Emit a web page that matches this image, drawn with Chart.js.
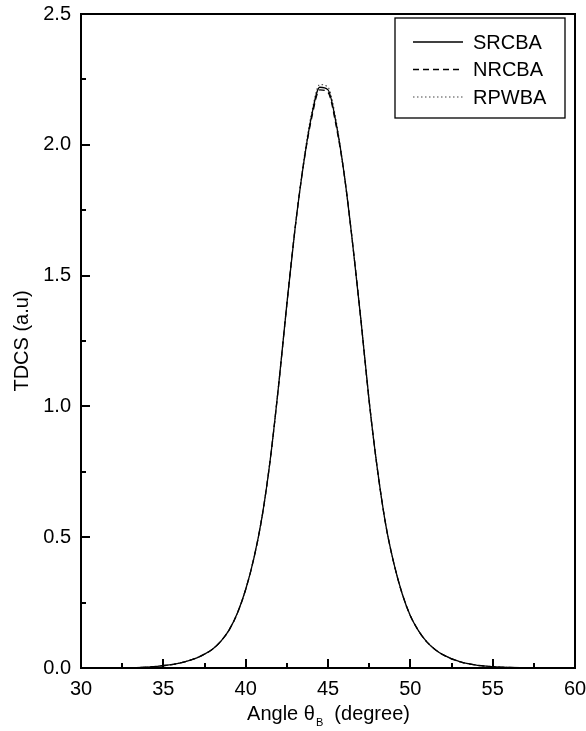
<!DOCTYPE html>
<html><head><meta charset="utf-8">
<script src="https://cdn.jsdelivr.net/npm/chart.js@4.4.0/dist/chart.umd.min.js"></script>
<style>html,body{margin:0;padding:0;background:#fff}</style>
</head><body>
<canvas id="c" width="586" height="731"></canvas>
<script>
const angles = [33,34,35,36,37,37.5,38,38.5,39,39.5,40,40.5,41,41.5,42,42.5,43,43.5,44,44.5,45,45.5,46,46.5,47,47.5,48,48.5,49,49.5,50,50.5,51,51.5,52,53,54,55,56,57];
const srcba = [0.001,0.003,0.009,0.019,0.038,0.053,0.073,0.103,0.146,0.21,0.30,0.42,0.58,0.80,1.08,1.39,1.68,1.92,2.11,2.22,2.21,2.08,1.88,1.62,1.33,1.02,0.76,0.55,0.40,0.285,0.20,0.142,0.10,0.071,0.05,0.024,0.011,0.005,0.002,0.001];
const nrcba = [0.001,0.003,0.009,0.019,0.038,0.053,0.073,0.103,0.146,0.21,0.30,0.42,0.58,0.80,1.08,1.39,1.68,1.92,2.10,2.21,2.20,2.07,1.88,1.62,1.33,1.02,0.76,0.55,0.40,0.285,0.20,0.142,0.10,0.071,0.05,0.024,0.011,0.005,0.002,0.001];
const rpwba = [0.001,0.003,0.009,0.019,0.038,0.053,0.073,0.103,0.146,0.21,0.30,0.42,0.58,0.80,1.08,1.39,1.68,1.93,2.12,2.23,2.22,2.09,1.88,1.62,1.33,1.02,0.76,0.55,0.40,0.285,0.20,0.142,0.10,0.071,0.05,0.024,0.011,0.005,0.002,0.001];
const seriesNames = ['SRCBA','NRCBA','RPWBA'];
const xTicks = [30,35,40,45,50,55,60];
const yTicks = [0,0.5,1.0,1.5,2.0,2.5];
const xMinorStep = 2.5;
const yMinorStep = 0.25;

const FONT = '"Liberation Sans", Arial, Helvetica, sans-serif';
const FS = 20;
const pts = arr => angles.map((a,i)=>({x:a,y:arr[i]}));

const decor = {
  id:'decor',
  afterDatasetsDraw(chart){
    const {ctx, chartArea:a, scales:{x,y}} = chart;
    ctx.save();
    ctx.strokeStyle='#000';
    ctx.lineWidth=2;
    ctx.strokeRect(a.left, a.top, a.right-a.left, a.bottom-a.top);
    ctx.beginPath();
    for (let v=x.min; v<=x.max+1e-9; v+=xMinorStep){
      const px = Math.round(x.getPixelForValue(v));
      const len = xTicks.includes(v) ? 9 : 5;
      ctx.moveTo(px, a.bottom); ctx.lineTo(px, a.bottom-len);
    }
    for (let v=y.min; v<=y.max+1e-9; v+=yMinorStep){
      const py = Math.round(y.getPixelForValue(v));
      const len = yTicks.some(t=>Math.abs(t-v)<1e-9) ? 9 : 5;
      ctx.moveTo(a.left, py); ctx.lineTo(a.left+len, py);
    }
    ctx.stroke();
    ctx.restore();
  },
  afterDraw(chart){
    const {ctx, chartArea:a} = chart;
    ctx.save();
    const bx0 = a.right-180, by0 = a.top+4, bw = 170, bh = 100;
    ctx.fillStyle='#fff';
    ctx.fillRect(bx0,by0,bw,bh);
    ctx.strokeStyle='#000'; ctx.lineWidth=1.3;
    ctx.strokeRect(bx0,by0,bw,bh);
    chart.data.datasets.forEach((ds,i)=>{
      const yy = by0 + 24 + i*27.5;
      ctx.beginPath();
      ctx.setLineDash(ds.borderDash||[]);
      ctx.strokeStyle = ds.borderColor; ctx.lineWidth = ds.borderWidth;
      ctx.moveTo(bx0+18, yy); ctx.lineTo(bx0+68, yy);
      ctx.stroke();
      ctx.setLineDash([]);
      ctx.fillStyle='#000';
      ctx.font = FS+'px '+FONT;
      ctx.textBaseline='middle'; ctx.textAlign='left';
      ctx.fillText(ds.label, bx0+78, yy+1);
    });
    const cx = (a.left+a.right)/2;
    const base = 720;
    const p1 = 'Angle \u03B8', sub = 'B', p2 = '  (degree)';
    ctx.font = FS+'px '+FONT; const w1 = ctx.measureText(p1).width, w3 = ctx.measureText(p2).width;
    ctx.font = '11px '+FONT; const w2 = ctx.measureText(sub).width;
    let sx = cx - (w1+w2+w3)/2;
    ctx.fillStyle='#000'; ctx.textBaseline='alphabetic'; ctx.textAlign='left';
    ctx.font = FS+'px '+FONT; ctx.fillText(p1, sx, base); sx += w1;
    ctx.font = '11px '+FONT; ctx.fillText(sub, sx+1, base+6); sx += w2+1;
    ctx.font = FS+'px '+FONT; ctx.fillText(p2, sx, base);
    ctx.restore();
  }
};

new Chart(document.getElementById('c'), {
  type:'line',
  data:{
    datasets:[
      {label:seriesNames[0], data:pts(srcba), borderColor:'#000', borderWidth:1.3, borderDash:[], cubicInterpolationMode:'monotone'},
      {label:seriesNames[1], data:pts(nrcba), borderColor:'#000', borderWidth:1.3, borderDash:[6,4], cubicInterpolationMode:'monotone'},
      {label:seriesNames[2], data:pts(rpwba), borderColor:'#444', borderWidth:1.1, borderDash:[1.5,2.5], cubicInterpolationMode:'monotone'}
    ]
  },
  options:{
    responsive:false, animation:false, devicePixelRatio:1,
    layout:{padding:{left:0,right:11,top:14,bottom:0}},
    elements:{point:{radius:0}},
    plugins:{legend:{display:false}, tooltip:{enabled:false}},
    scales:{
      x:{type:'linear', min:30, max:60,
        afterBuildTicks:s=>{s.ticks = xTicks.map(v=>({value:v}));},
        ticks:{color:'#000', font:{family:FONT,size:FS}, padding:9, maxRotation:0, callback:v=>String(v)},
        grid:{display:false, drawTicks:false}, border:{display:false},
        afterFit:s=>{s.height=63; s.paddingLeft=0; s.paddingRight=0;}
      },
      y:{type:'linear', min:0, max:2.5,
        afterBuildTicks:s=>{s.ticks = yTicks.map(v=>({value:v}));},
        ticks:{color:'#000', font:{family:FONT,size:FS}, padding:10, callback:v=>Number(v).toFixed(1)},
        grid:{display:false, drawTicks:false}, border:{display:false},
        title:{display:true, text:'TDCS (a.u)', color:'#000', font:{family:FONT,size:FS}, padding:{top:10,bottom:0}},
        afterFit:s=>{s.width=81; s.paddingTop=0; s.paddingBottom=0;}
      }
    }
  },
  plugins:[decor]
});
</script>
</body></html>
